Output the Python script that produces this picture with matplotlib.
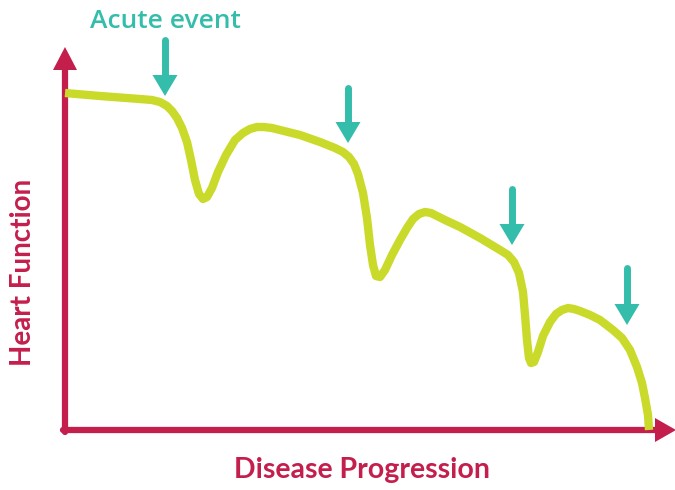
import matplotlib.pyplot as plt
from matplotlib.patches import Polygon

# colours
AXIS_COL = '#C41E4C'
CURVE_COL = '#C9DA2A'
EVENT_COL = '#33BDAA'

# heart function curve, traced in pixel space (x right, y down)
curve_x = [65, 100, 140, 152, 160, 167, 172, 177, 182, 187, 191, 195, 199, 203,
           207, 212, 218, 226, 235, 243, 250, 257, 264, 272, 280, 300, 320, 335,
           343, 349, 354, 358, 363, 367, 370, 373, 376, 380, 385, 392, 400, 407,
           413, 419, 425, 431, 437, 445, 460, 480, 500, 508, 514, 519, 523, 525,
           527, 529, 531, 534, 538, 543, 550, 556, 562, 568, 574, 580, 590, 600,
           613, 622, 630, 637, 642, 645, 648, 649]
curve_y = [93, 96, 99, 100, 102, 106, 111, 118, 128, 142, 160, 180, 194, 199,
           197, 188, 172, 155, 140, 133, 129, 127, 127, 128, 130, 135, 142, 148,
           152, 157, 164, 174, 193, 218, 245, 265, 276, 277, 270, 255, 240, 228,
           219, 214, 212, 213, 216, 220, 227, 238, 250, 255, 262, 273, 292, 315,
           340, 358, 363, 362, 352, 336, 322, 314, 310, 308, 309, 311, 315, 320,
           330, 338, 350, 367, 383, 398, 415, 430]

# acute event arrows: x position, shaft top, arrow tip
event_x = [165, 348, 512, 627]
event_top = [40, 88, 189, 268]
event_tip = [96, 143, 245, 325]

fig = plt.figure(figsize=(6.75, 4.9), dpi=100)
ax = fig.add_axes([0, 0, 1, 1])
ax.set_xlim(0, 675)
ax.set_ylim(490, 0)
ax.axis('off')

# axes with arrow heads
ax.plot([65, 65], [432, 62], color=AXIS_COL, lw=4.5, solid_capstyle='round')
ax.plot([63, 660], [430, 430], color=AXIS_COL, lw=4.5, solid_capstyle='round')
ax.add_patch(Polygon([[53, 70], [77, 70], [65, 47]], closed=True,
                     color=AXIS_COL, lw=0))
ax.add_patch(Polygon([[655, 418], [655, 442], [676, 430]], closed=True,
                     color=AXIS_COL, lw=0))

ax.plot(curve_x, curve_y, color=CURVE_COL, lw=6, solid_capstyle='butt',
        solid_joinstyle='round', antialiased=True, zorder=3)

head_h, head_w = 21, 12.5
for ex, et, tip in zip(event_x, event_top, event_tip):
    ax.plot([ex, ex], [et, tip - head_h + 2], color=EVENT_COL, lw=5,
            solid_capstyle='round')
    ax.add_patch(Polygon([[ex - head_w, tip - head_h], [ex + head_w, tip - head_h],
                          [ex, tip]], closed=True, color=EVENT_COL, lw=0))

ax.text(165, 21, 'Acute event', color=EVENT_COL, fontsize=19,
        family='Open Sans', weight='semibold', ha='center', va='center')
ax.text(362, 470, 'Disease Progression', color=AXIS_COL, fontsize=20.5,
        family='Lato', weight='bold', ha='center', va='center')
ax.text(23, 272, 'Heart Function', color=AXIS_COL, fontsize=20, family='Lato',
        weight='bold', ha='center', va='center', rotation=90)

fig.savefig('out.png', dpi=100)
